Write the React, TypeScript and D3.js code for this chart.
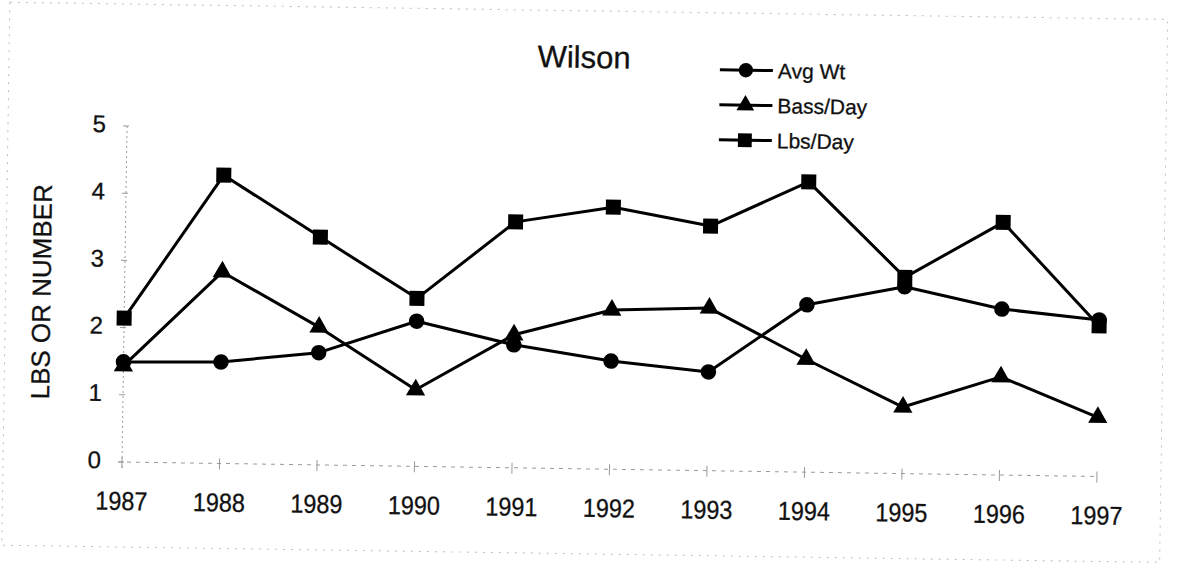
import React from "react";
import * as d3 from "d3";

const years = [1987, 1988, 1989, 1990, 1991, 1992, 1993, 1994, 1995, 1996, 1997];
const avgWt = [1.49, 1.51, 1.67, 2.16, 1.83, 1.61, 1.47, 2.49, 2.78, 2.47, 2.33];
const bassDay = [1.43, 2.85, 2.05, 1.14, 1.98, 2.37, 2.42, 1.68, 0.99, 1.46, 0.88];
const lbsDay = [2.14, 4.29, 3.39, 2.5, 3.66, 3.9, 3.64, 4.32, 2.92, 3.76, 2.24];
const yTicks = [0, 1, 2, 3, 4, 5];
const seriesNames = ["Avg Wt", "Bass/Day", "Lbs/Day"];

const FONT = "'Liberation Sans', Arial, sans-serif";

export default function App() {
  const W = 1192, H = 571;
  const x = d3.scalePoint<number>().domain(years).range([122, 1097]);
  const y = d3.scaleLinear().domain([0, 5]).range([462, 126]);
  const line = d3.line<number>().x((_, i) => x(years[i])!).y((d) => y(d));

  const series = [
    { name: seriesNames[0], data: avgWt, sym: d3.symbolCircle, size: 190 },
    { name: seriesNames[1], data: bassDay, sym: d3.symbolTriangle, size: 160 },
    { name: seriesNames[2], data: lbsDay, sym: d3.symbolSquare, size: 225 },
  ];

  const sym = (s: any, size: number) => d3.symbol().type(s).size(size)()!;
  const grey = "#9a9a9a";

  return (
    <svg width={W} height={H} style={{ position: "absolute", left: 0, top: 0, background: "#fff" }}>
      <g transform="rotate(0.85, 122, 463)">
        {/* outer frame */}
        <rect x={3} y={4} width={1158} height={543} fill="none" stroke="#bbb" strokeWidth={1} strokeDasharray="2,6" />

        {/* y axis */}
        <line x1={x(years[0])} x2={x(years[0])} y1={y(5)} y2={y(0) + 6} stroke={grey} strokeWidth={1} strokeDasharray="2,3" />
        {yTicks.map((t) => (
          <g key={"yt" + t}>
            <line x1={x(years[0])! - 4} x2={x(years[0])! + 2} y1={y(t)} y2={y(t)} stroke={grey} strokeWidth={1} />
            <text x={101} y={y(t) - 2} fontSize={24} fontFamily={FONT} textAnchor="end" dominantBaseline="central" fill="#111" stroke="#111" strokeWidth={0.3}>
              {t}
            </text>
          </g>
        ))}

        {/* x axis */}
        <line x1={x(years[0])! - 4} x2={x(years[years.length - 1])} y1={y(0)} y2={y(0)} stroke={grey} strokeWidth={1} strokeDasharray="4,5" />
        {years.map((yr) => (
          <g key={"xt" + yr}>
            <line x1={x(yr)} x2={x(yr)} y1={y(0) - 5} y2={y(0) + 6} stroke={grey} strokeWidth={1} />
            <text
              transform={`translate(${x(yr)},${y(0) + 48}) scale(0.9,1)`}
              fontSize={26}
              fontFamily={FONT}
              textAnchor="middle"
              fill="#111"
              stroke="#111"
              strokeWidth={0.3}
            >
              {yr}
            </text>
          </g>
        ))}

        {/* y axis title */}
        <text
          transform={`translate(${48},${293}) rotate(-90)`}
          fontSize={26}
          fontFamily={FONT}
          textAnchor="middle"
          fill="#111"
          stroke="#111"
          strokeWidth={0.3}
        >
          LBS OR NUMBER
        </text>

        {/* title */}
        <text x={578} y={61} fontSize={31} fontFamily={FONT} textAnchor="middle" fill="#111" stroke="#111" strokeWidth={0.3}>
          Wilson
        </text>

        {/* series */}
        {series.map((s) => (
          <g key={s.name}>
            <path d={line(s.data)!} fill="none" stroke="#000" strokeWidth={3} strokeLinejoin="round" />
            {s.data.map((v, i) => (
              <path key={i} d={sym(s.sym, s.size)} transform={`translate(${x(years[i])},${y(v)})`} fill="#000" />
            ))}
          </g>
        ))}

        {/* legend */}
        {series.map((s, i) => {
          const ly = 61 + i * 35;
          return (
            <g key={"lg" + s.name}>
              <line x1={714} x2={767} y1={ly} y2={ly} stroke="#000" strokeWidth={3} />
              <path d={sym(s.sym, s.size * 0.85)} transform={`translate(740,${ly})`} fill="#000" />
              <text x={772} y={ly} fontSize={21} fontFamily={FONT} dominantBaseline="central" fill="#111" stroke="#111" strokeWidth={0.3}>
                {s.name}
              </text>
            </g>
          );
        })}
      </g>
    </svg>
  );
}
